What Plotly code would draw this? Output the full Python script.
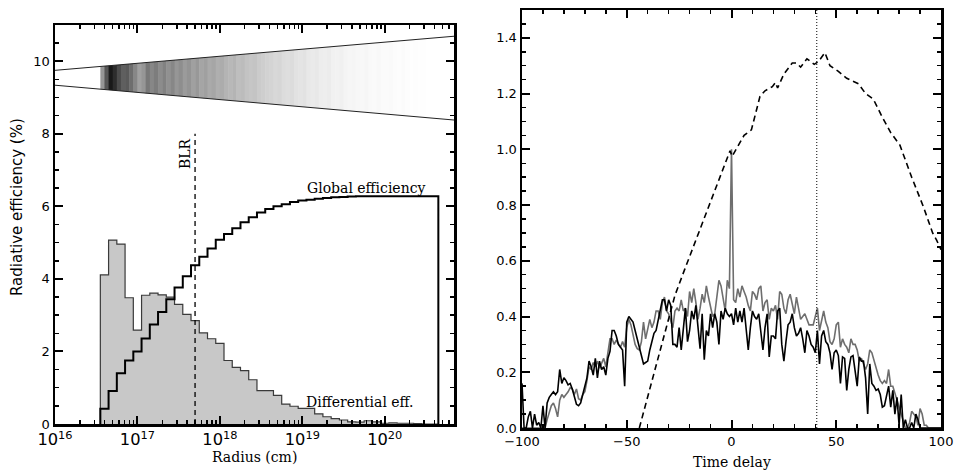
import numpy as np
import plotly.graph_objects as go

# ---------------- Left panel data ----------------
bin_start_log = 16.55      # log10 of first bin edge (cm)
bin_width_log = 0.1        # bin width in decades

differential_eff = [4.11, 5.07, 4.96, 3.48, 2.59, 3.55, 3.61, 3.56, 3.50, 3.30,
                    3.02, 2.85, 2.51, 2.35, 2.22, 1.75, 1.56, 1.47, 1.22, 0.92,
                    0.92, 0.79, 0.55, 0.49, 0.43, 0.43, 0.28, 0.20, 0.15, 0.11,
                    0.06, 0.05, 0.09, 0.06, 0.02, 0.03, 0.02, 0.02, 0.01, 0.00, 0.00]
global_eff = [0.42, 0.91, 1.40, 1.75, 2.00, 2.36, 2.74, 3.09, 3.44, 3.76,
              4.07, 4.38, 4.61, 4.84, 5.08, 5.24, 5.40, 5.56, 5.70, 5.83,
              5.93, 6.00, 6.06, 6.12, 6.16, 6.18, 6.21, 6.23, 6.25, 6.26,
              6.27, 6.28, 6.28, 6.28, 6.28, 6.28, 6.28, 6.28, 6.28, 6.28, 6.28]

blr_radius = 5.0e17
blr_top = 8.0

# wedge (emission map) boundaries at log-radius ends
wedge_ends_log = [16.0, 20.84]
wedge_upper = [9.75, 10.69]
wedge_lower = [9.34, 8.38]
shade_start_log = 16.55
shade_step_log = 0.05
shade_gray = [150, 85, 25, 45, 75, 95, 90, 110, 135, 160,
              150, 120, 135, 125, 140, 130, 145, 135, 150, 142,
              155, 148, 160, 152, 165, 160, 170, 166, 175, 172,
              180, 184, 180, 190, 188, 195, 198, 196, 203, 206,
              210, 212, 216, 214, 220, 222, 220, 226, 228, 226,
              232, 234, 232, 237, 238, 236, 241, 242, 240, 244,
              246, 245, 247, 248, 246, 249, 250, 248, 251, 251,
              250, 252, 253, 251, 253, 254, 253, 254, 254, 255]

# ---------------- Right panel data ----------------
time_delay = list(range(-100, 101))
black_curve = [0.16, 0.00, 0.00, 0.04, 0.06, 0.00, 0.05, 0.01, 0.02, 0.00,
               0.08, 0.00, 0.09, 0.11, 0.12, 0.13, 0.12, 0.13, 0.21, 0.16,
               0.18, 0.17, 0.155, 0.16, 0.14, 0.11, 0.085, 0.08, 0.09, 0.12,
               0.15, 0.18, 0.24, 0.22, 0.19, 0.25, 0.18, 0.24, 0.21, 0.22,
               0.19, 0.25, 0.275, 0.35, 0.35, 0.33, 0.30, 0.29, 0.28, 0.15,
               0.38, 0.40, 0.39, 0.38, 0.35, 0.32, 0.29, 0.25, 0.23, 0.235,
               0.24, 0.28, 0.31, 0.34, 0.35, 0.39, 0.43, 0.46, 0.46, 0.42,
               0.46, 0.44, 0.30, 0.30, 0.29, 0.36, 0.28, 0.37, 0.43, 0.31,
               0.35, 0.42, 0.39, 0.44, 0.36, 0.285, 0.41, 0.245, 0.35, 0.33,
               0.41, 0.36, 0.41, 0.38, 0.30, 0.42, 0.39, 0.43, 0.41, 0.40,
               0.41, 0.37, 0.43, 0.38, 0.42, 0.38, 0.43, 0.35, 0.28, 0.36,
               0.42, 0.40, 0.39, 0.41, 0.35, 0.28, 0.36, 0.41, 0.255, 0.33,
               0.33, 0.32, 0.42, 0.43, 0.30, 0.24, 0.31, 0.37, 0.38, 0.41,
               0.36, 0.33, 0.34, 0.36, 0.32, 0.27, 0.35, 0.33, 0.30, 0.29,
               0.27, 0.35, 0.23, 0.33, 0.35, 0.31, 0.30, 0.27, 0.21, 0.27,
               0.28, 0.26, 0.16, 0.255, 0.25, 0.135, 0.21, 0.255, 0.26, 0.21,
               0.15, 0.255, 0.24, 0.24, 0.18, 0.05, 0.23, 0.16, 0.15, 0.135,
               0.14, 0.12, 0.075, 0.08, 0.11, 0.15, 0.075, 0.135, 0.05, 0.11,
               0.01, 0.12, 0.00, 0.03, 0.00, 0.00, 0.02, 0.00, 0.05, 0.03,
               0.00, 0.00, 0.00, 0.00, 0.00, 0.00, 0.00, 0.00, 0.00, 0.00, 0.00]
grey_curve = [0.00, 0.00, 0.00, 0.00, 0.00, 0.00, 0.00, 0.00, 0.00, 0.00,
              0.00, 0.00, 0.03, 0.06, 0.08, 0.09, 0.07, 0.04, 0.10, 0.12,
              0.11, 0.12, 0.13, 0.145, 0.14, 0.12, 0.14, 0.105, 0.10, 0.12,
              0.13, 0.17, 0.22, 0.21, 0.235, 0.22, 0.24, 0.215, 0.23, 0.25,
              0.22, 0.28, 0.32, 0.32, 0.30, 0.315, 0.30, 0.29, 0.31, 0.29,
              0.36, 0.39, 0.37, 0.33, 0.30, 0.285, 0.28, 0.31, 0.38, 0.32,
              0.35, 0.39, 0.36, 0.38, 0.42, 0.42, 0.39, 0.45, 0.47, 0.42,
              0.41, 0.38, 0.36, 0.42, 0.43, 0.42, 0.46, 0.42, 0.43, 0.40,
              0.49, 0.45, 0.50, 0.45, 0.39, 0.43, 0.48, 0.45, 0.51, 0.47,
              0.43, 0.40, 0.41, 0.47, 0.53, 0.51, 0.47, 0.42, 0.53, 0.50,
              1.00, 0.46, 0.45, 0.50, 0.47, 0.51, 0.49, 0.47, 0.44, 0.42,
              0.49, 0.48, 0.46, 0.50, 0.51, 0.42, 0.45, 0.46, 0.39, 0.43,
              0.42, 0.44, 0.39, 0.49, 0.48, 0.43, 0.41, 0.46, 0.48, 0.45,
              0.41, 0.47, 0.43, 0.39, 0.40, 0.41, 0.39, 0.37, 0.37, 0.37,
              0.40, 0.43, 0.35, 0.38, 0.42, 0.38, 0.36, 0.31, 0.30, 0.32,
              0.37, 0.38, 0.29, 0.32, 0.30, 0.29, 0.27, 0.32, 0.30, 0.30,
              0.28, 0.24, 0.25, 0.23, 0.21, 0.23, 0.28, 0.27, 0.24, 0.21,
              0.19, 0.17, 0.16, 0.17, 0.16, 0.21, 0.15, 0.15, 0.12, 0.10,
              0.075, 0.05, 0.02, 0.00, 0.00, 0.02, 0.06, 0.05, 0.04, 0.01,
              0.07, 0.05, 0.01, 0.01, 0.00, 0.00, 0.00, 0.00, 0.00, 0.00, 0.00]
dashed_t = [-44, -27, -22.2, -6.5, -0.7, 0.3, 6, 9.5, 13.6, 16, 19.5, 21, 22,
            25, 29, 31, 33, 36, 39.5, 41.5, 44.6, 47, 51, 55, 60.6, 64, 67.7,
            72, 76, 80.4, 86, 91.6, 96, 97.9, 100]
dashed_v = [0.0, 0.476, 0.572, 0.885, 0.995, 0.975, 1.05, 1.07, 1.19, 1.21, 1.225, 1.24, 1.22,
            1.27, 1.31, 1.31, 1.295, 1.325, 1.305, 1.315, 1.347, 1.30, 1.28, 1.255, 1.235, 1.20, 1.18,
            1.115, 1.06, 1.015, 0.90, 0.794, 0.70, 0.674, 0.64]
dotted_t = 40.7

# ---------------- Figure ----------------
W, H = 954, 470
fig = go.Figure()

n = len(differential_eff)
edges = [10 ** (bin_start_log + bin_width_log * k) for k in range(n + 1)]

def step_xy(vals):
    xs = [edges[0]] + edges[:n] + [edges[n], edges[n]]
    ys = [0] + list(vals) + [vals[-1], 0]
    return xs, ys

xd, yd = step_xy(differential_eff)
fig.add_trace(go.Scatter(x=xd, y=yd, mode="lines", line=dict(shape="hv", color="#3a3a3a", width=1.2),
                         fill="tozeroy", fillcolor="#c8c8c8", xaxis="x", yaxis="y",
                         showlegend=False, hoverinfo="skip"))
xg, yg = step_xy(global_eff)
fig.add_trace(go.Scatter(x=xg, y=yg, mode="lines", line=dict(shape="hv", color="black", width=2),
                         xaxis="x", yaxis="y", showlegend=False, hoverinfo="skip"))

fig.add_trace(go.Scatter(x=[blr_radius, blr_radius], y=[0, blr_top], mode="lines",
                         line=dict(color="black", width=1.3, dash="5px,4px"),
                         xaxis="x", yaxis="y", showlegend=False, hoverinfo="skip"))

for i, g in enumerate(shade_gray):
    l0 = shade_start_log + shade_step_log * i
    l1 = l0 + shade_step_log * 1.12
    u0, u1 = np.interp([l0, l1], wedge_ends_log, wedge_upper)
    b0, b1 = np.interp([l0, l1], wedge_ends_log, wedge_lower)
    fig.add_trace(go.Scatter(x=[10 ** l0, 10 ** l0, 10 ** l1, 10 ** l1, 10 ** l0],
                             y=[b0, u0, u1, b1, b0], mode="lines", fill="toself",
                             fillcolor=f"rgb({g},{g},{g})", line=dict(width=0),
                             xaxis="x", yaxis="y", showlegend=False, hoverinfo="skip"))
for bound in (wedge_upper, wedge_lower):
    fig.add_trace(go.Scatter(x=[10 ** v for v in wedge_ends_log], y=bound, mode="lines",
                             line=dict(color="#222222", width=1), xaxis="x", yaxis="y",
                             showlegend=False, hoverinfo="skip"))

fig.add_trace(go.Scatter(x=time_delay, y=grey_curve, mode="lines", line=dict(color="#6e6e6e", width=1.6),
                         xaxis="x2", yaxis="y2", showlegend=False, hoverinfo="skip"))
fig.add_trace(go.Scatter(x=time_delay, y=black_curve, mode="lines", line=dict(color="black", width=1.6),
                         xaxis="x2", yaxis="y2", showlegend=False, hoverinfo="skip"))
fig.add_trace(go.Scatter(x=dashed_t, y=dashed_v, mode="lines",
                         line=dict(color="black", width=1.6, dash="6px,4px"),
                         xaxis="x2", yaxis="y2", showlegend=False, hoverinfo="skip"))
fig.add_trace(go.Scatter(x=[dotted_t, dotted_t], y=[0, 1.5], mode="lines",
                         line=dict(color="black", width=1, dash="1px,2px"),
                         xaxis="x2", yaxis="y2", showlegend=False, hoverinfo="skip"))

tickfont = dict(family="DejaVu Sans, Arial, sans-serif", size=13, color="black")
serif = dict(family="DejaVu Serif, Times New Roman, serif", size=14, color="black")

common = dict(showline=True, linewidth=2.5, linecolor="black", mirror="ticks", ticks="inside",
              tickwidth=2, tickcolor="black", showgrid=False, zeroline=False, tickfont=tickfont,
              automargin=False)
minor_style = dict(ticks="inside", ticklen=4, tickwidth=1.5, tickcolor="black", showgrid=False)

fig.update_layout(
    width=W, height=H, margin=dict(l=0, r=0, t=0, b=0, autoexpand=False),
    paper_bgcolor="white", plot_bgcolor="white", hovermode=False,
    xaxis=dict(domain=[55 / W, 454 / W], anchor="y", type="log", range=[16, 20.84], dtick=1,
               exponentformat="power", ticklen=8, minor=dict(dtick="D1", **minor_style), **common),
    yaxis=dict(domain=[1 - 424 / H, 1 - 25 / H], anchor="x", range=[0, 11], dtick=2, ticklen=8,
               minor=dict(dtick=0.5, **minor_style), **common),
    xaxis2=dict(domain=[522 / W, 941 / W], anchor="y2", range=[-100, 100], dtick=50, ticklen=8,
                minor=dict(dtick=10, **minor_style), **common),
    yaxis2=dict(domain=[1 - 428 / H, 1 - 10 / H], anchor="x2", range=[0, 1.5], dtick=0.2, ticklen=8,
                tickformat=".1f", minor=dict(dtick=0.05, **minor_style), **common),
    annotations=[
        dict(text="Global efficiency", x=19.77, y=6.52, xref="x", yref="y", showarrow=False, font=serif,
             xanchor="center", yanchor="middle"),
        dict(text="Differential eff.", x=19.70, y=0.61, xref="x", yref="y", showarrow=False, font=serif,
             xanchor="center", yanchor="middle"),
        dict(text="BLR", x=17.585, y=7.46, xref="x", yref="y", showarrow=False, font=serif, textangle=-90,
             xanchor="center", yanchor="middle"),
        dict(text="Radius (cm)", x=(55 + 454) / 2 / W, y=1 - 457 / H, xref="paper", yref="paper",
             showarrow=False, font=serif, xanchor="center", yanchor="middle"),
        dict(text="Time delay", x=(522 + 941) / 2 / W, y=1 - 462 / H, xref="paper", yref="paper",
             showarrow=False, font=serif, xanchor="center", yanchor="middle"),
        dict(text="Radiative efficiency (%)", x=17 / W, y=1 - 207 / H, xref="paper", yref="paper",
             showarrow=False, textangle=-90, xanchor="center", yanchor="middle",
             font=dict(family="DejaVu Sans, Arial, sans-serif", size=15, color="black")),
    ],
)

fig.write_html("out.html", config={"displayModeBar": False, "staticPlot": True},
               post_script="document.body.style.margin='0';document.body.style.padding='0';")
